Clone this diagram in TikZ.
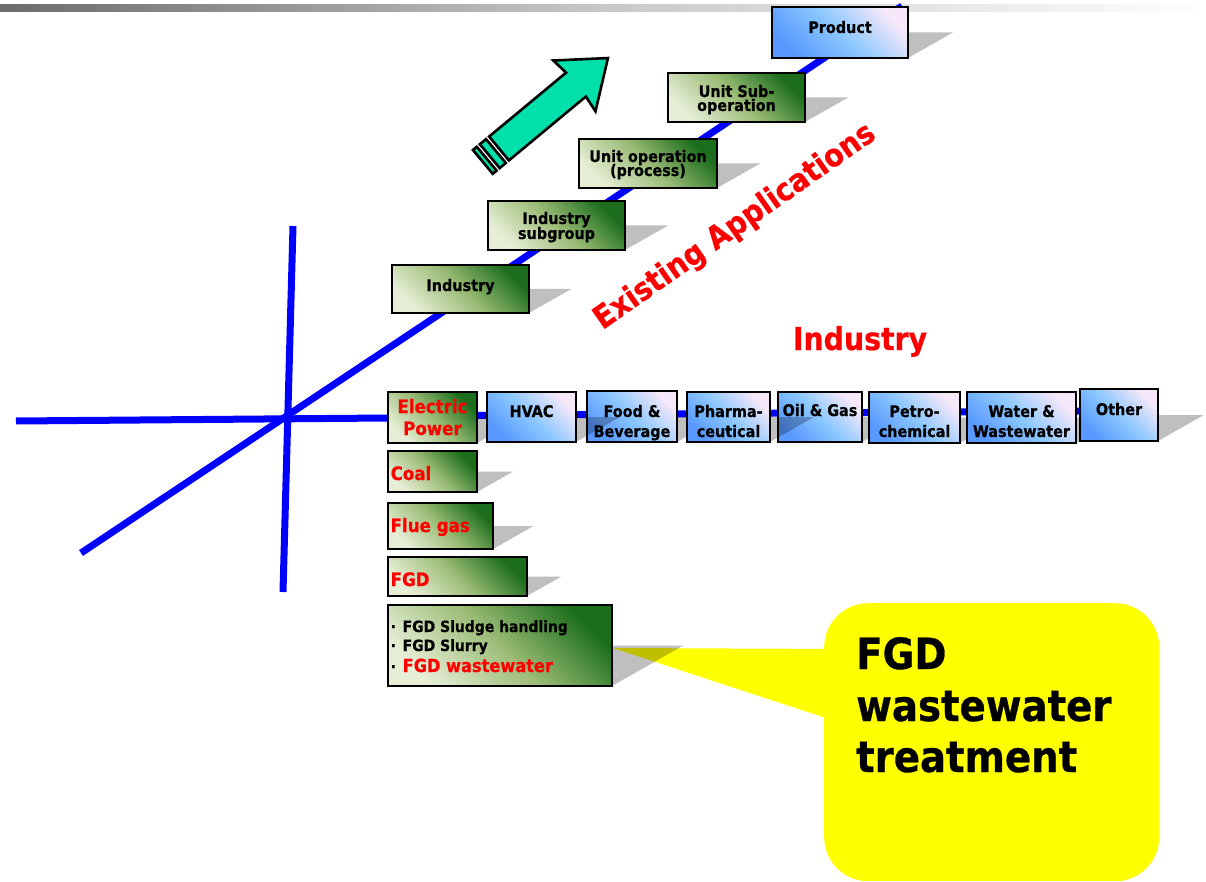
\documentclass[tikz,border=0pt]{standalone}
\usepackage{fontspec}
\setmainfont{DejaVu Sans Condensed}[BoldFeatures={FakeBold=0.6}]
\usetikzlibrary{calc}
\definecolor{gdark}{RGB}{28,110,28}
\definecolor{gmid}{RGB}{155,188,118}
\definecolor{glight}{RGB}{230,238,214}
\definecolor{bdark}{RGB}{88,152,255}
\definecolor{bmid}{RGB}{140,200,255}
\definecolor{blight}{RGB}{246,232,248}
\definecolor{mint}{RGB}{0,224,170}
\definecolor{axisblue}{RGB}{0,0,255}
\definecolor{barl}{RGB}{108,108,108}
\definecolor{barm}{RGB}{200,200,200}
\definecolor{calloutyellow}{RGB}{255,255,0}
\newcommand{\fs}[2]{\fontsize{#1}{#2}\selectfont\bfseries}
\newcommand{\shadowof}[4]{%
  \pgfmathsetmacro{\shdx}{0.88*(#4-#2)}%
  \pgfmathsetmacro{\shym}{(#2+#4)/2}%
  \fill[shad] (#1,#4) -- (#3,#4) -- ({#3+\shdx},\shym) -- ({#1+\shdx},\shym) -- cycle;}
\newcommand{\boxat}[6]{%
  \node[#2, minimum width={(#5-#3)*1pt}, minimum height={(#6-#4)*1pt}, anchor=north west] (#1) at (#3,#4) {};}
\begin{document}
\begin{tikzpicture}[x=1pt,y=-1pt,
  gbox/.style={draw=black, line width=2.6pt, top color=gdark, bottom color=glight, middle color=gmid, shading angle=-45, inner sep=0pt, outer sep=0pt},
  bbox/.style={draw=black, line width=2.6pt, top color=blight, bottom color=bdark, middle color=bmid, shading angle=-45, inner sep=0pt, outer sep=0pt},
  shad/.style={fill=black, fill opacity=0.25},
  axisline/.style={draw=axisblue, line width=7pt},
  gt/.style={font=\fs{16}{15}, anchor=base, inner sep=0pt},
  rt/.style={font=\fs{18.5}{22}, text=red, anchor=base, inner sep=0pt},
  lt/.style={font=\fs{15.5}{15}, anchor=base west, inner sep=0pt},
  arrowpart/.style={draw=black, line width=2.6pt, fill=mint, line join=miter}
]
\useasboundingbox (0,0) rectangle (1206,882);
% top bar
\shade[left color=barl, right color=white, middle color=barm] (0,5) rectangle (1206,12);
% axes
\coordinate (hL) at (16,421); \coordinate (hR) at (388,418);
\coordinate (vT) at (293,226); \coordinate (vB) at (283,592);
\coordinate (dL) at (81,553); \coordinate (dR) at (902,6);
\coordinate (rL) at (388,416); \coordinate (rR) at (1085,411);
\draw[axisline] (hL) -- (hR);
\draw[axisline] (vT) -- (vB);
\draw[axisline] (dL) -- (dR);
\draw[axisline] (rL) -- (rR);
% callout
\coordinate (tip) at (613,648);
\fill[calloutyellow] (tip) -- (850,649) -- (850,726) -- cycle;
\node[fill=calloutyellow, rounded corners=44pt, minimum width=335pt, minimum height=278pt, anchor=north west, inner sep=0pt] (call) at (824,603) {};
\node[font=\fs{43}{51}, anchor=base west, inner sep=0pt] (c1) at (856,669) {FGD};
\node[font=\fs{43}{51}, anchor=base west, inner sep=0pt] (c2) at (856,721) {wastewater};
\node[font=\fs{43}{51}, anchor=base west, inner sep=0pt] (c3) at (856,772) {treatment};
% green arrow
\begin{scope}[shift={(499,148.5)}, rotate=39.7]
  \draw[arrowpart] (0,-15.5) -- (100,-15.5) -- (98,-33) -- (141.6,0) -- (98,33) -- (100,15.5) -- (0,15.5) -- cycle;
  \draw[arrowpart] (-4,-15.5) rectangle (-12,15.5);
  \draw[arrowpart] (-16,-15.5) rectangle (-21,15.5);
\end{scope}
% shadows
\shadowof{392}{265}{529}{313}
\shadowof{488}{201}{625}{250}
\shadowof{579}{139}{717}{188}
\shadowof{668}{73}{805}{122}
\shadowof{772}{7}{908}{58}
\shadowof{388}{392}{477}{443}
\shadowof{587}{391}{677}{442}
\shadowof{778}{392}{862}{442}
\shadowof{869}{392}{960}{443}
\shadowof{967}{392}{1076}{443}
\shadowof{1080}{389}{1158}{441}
\shadowof{388}{451}{477}{492}
\shadowof{388}{503}{493}{549}
\shadowof{388}{557}{527}{596}
\shadowof{388}{605}{612}{686}
% boxes
\boxat{ind}{gbox}{392}{265}{529}{313}
\boxat{sub}{gbox}{488}{201}{625}{250}
\boxat{uop}{gbox}{579}{139}{717}{188}
\boxat{usub}{gbox}{668}{73}{805}{122}
\boxat{prod}{bbox}{772}{7}{908}{58}
\boxat{elec}{gbox}{388}{392}{477}{443}
\boxat{hvac}{bbox}{487}{392}{576}{442}
\boxat{food}{bbox}{587}{391}{677}{442}
\boxat{pharma}{bbox}{687}{392}{770}{442}
\boxat{oil}{bbox}{778}{392}{862}{442}
\boxat{petro}{bbox}{869}{392}{960}{443}
\boxat{water}{bbox}{967}{392}{1076}{443}
\boxat{other}{bbox}{1080}{389}{1158}{441}
\boxat{coal}{gbox}{388}{451}{477}{492}
\boxat{flue}{gbox}{388}{503}{493}{549}
\boxat{fgd}{gbox}{388}{557}{527}{596}
\boxat{list}{gbox}{388}{605}{612}{686}
% shadows cast onto the next box
\begin{scope}
  \clip (577,380) rectangle (640,450);
  \shadowof{487}{392}{576}{442}
\end{scope}
\begin{scope}
  \clip (771,380) rectangle (830,450);
  \shadowof{687}{392}{770}{442}
\end{scope}
% texts of the staircase
\node[gt] (t-ind) at (460.5,291) {Industry};
\node[gt] (t-sub1) at (556.5,224) {Industry};
\node[gt] (t-sub2) at (556.5,239) {subgroup};
\node[gt] (t-uop1) at (648,162) {Unit operation};
\node[gt] (t-uop2) at (648,176) {(process)};
\node[gt] (t-usub1) at (736.5,97) {Unit Sub-};
\node[gt] (t-usub2) at (736.5,111) {operation};
\node[gt] (t-prod) at (840,33) {Product};
% texts of the row
\node[rt] (t-elec1) at (432.5,413) {Electric};
\node[rt] (t-elec2) at (432.5,435) {Power};
\node[gt] (t-hvac) at (531.5,417) {HVAC};
\node[gt] (t-food1) at (632,417) {Food \&};
\node[gt] (t-food2) at (632,437) {Beverage};
\node[gt] (t-ph1) at (728.5,417) {Pharma-};
\node[gt] (t-ph2) at (728.5,437) {ceutical};
\node[gt] (t-oil) at (820,416) {Oil \& Gas};
\node[gt] (t-pe1) at (914.5,417) {Petro-};
\node[gt] (t-pe2) at (914.5,437) {chemical};
\node[gt] (t-wa1) at (1021.5,417) {Water \&};
\node[gt] (t-wa2) at (1021.5,437) {Wastewater};
\node[gt] (t-other) at (1119,415) {Other};
% texts of the column
\node[rt, anchor=base west] (t-coal) at (390.5,480) {Coal};
\node[rt, anchor=base west] (t-flue) at (390.5,532) {Flue gas};
\node[rt, anchor=base west] (t-fgd) at (390.5,586) {FGD};
\node[lt] (t-l1) at (390.5,632) {\makebox[12pt][l]{·}FGD Sludge handling};
\node[lt] (t-l2) at (390.5,651) {\makebox[12pt][l]{·}FGD Slurry};
\node[lt] (t-l3) at (390.5,672) {\makebox[12pt][l]{·}{\fs{18}{20}\color{red}FGD wastewater}};
% headings
\node[font=\fs{31.5}{36}, text=red, anchor=base, inner sep=0pt] (t-industry) at (860,350) {Industry};
\node[font=\fs{31.5}{36}, text=red, anchor=base, inner sep=0pt, rotate=35] (t-exist) at (740,234) {Existing Applications};
\end{tikzpicture}
\end{document}
